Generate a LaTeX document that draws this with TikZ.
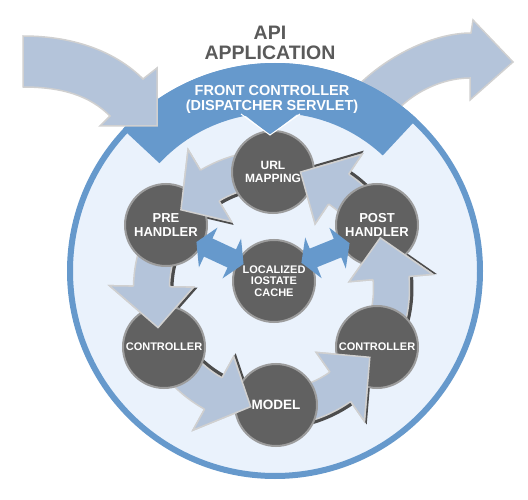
\documentclass[tikz,border=0pt]{standalone}
\usepackage{fontspec}
\setmainfont{Liberation Sans}
\usetikzlibrary{calc}

\definecolor{bandblue}{HTML}{6699CC}
\definecolor{paleblue}{HTML}{EAF2FC}
\definecolor{flowblue}{HTML}{B4C4DA}
\definecolor{flowedge}{HTML}{D0D0D0}
\definecolor{nodegray}{HTML}{616161}
\definecolor{nodeedge}{HTML}{9C9C9C}
\definecolor{titlegray}{HTML}{5A5A5A}
\definecolor{shadowgray}{HTML}{4C4C4C}

\begin{document}
\begin{tikzpicture}[x=1pt,y=-1pt,
    io/.style={circle, fill=nodegray, draw=nodeedge, line width=2pt, minimum size=82pt,
      inner sep=0pt, text=white, align=center, font=\bfseries\fontsize{11}{11.5}\selectfont},
    flow/.style={fill=flowblue, draw=flowedge, line width=1.5pt},
    bigflow/.style={fill=flowblue, draw=flowedge, line width=1.5pt},
    dbl/.style={fill=bandblue}]
    \useasboundingbox[fill=white] (0,0) rectangle (528,500);

    \coordinate (appc) at (275,271);
    \coordinate (ring) at (271.5,288.5);

    % outgoing arrow, behind the application
    \filldraw[bigflow] (352,92) .. controls (380,60) and (430,33) .. (471,33) -- (473,20) -- (513,62)
        -- (470,100) -- (470,78) .. controls (440,78) and (405,95) .. (386,124) -- cycle;

    % application
    \draw[bandblue, line width=6pt, fill=paleblue] (appc) circle[radius=205];
    \begin{scope}[shift={(appc)}]
        \fill[bandblue] (-137:208) arc[start angle=-137, end angle=-47, radius=208]
            -- (-47:158) arc[start angle=-47, end angle=-137, radius=158] -- cycle;
    \end{scope}

    % incoming arrow
    \filldraw[bigflow] (23,36) .. controls (78,36) and (118,54) .. (143,79) -- (157,68) -- (157,126)
        -- (100,126) -- (110,116) .. controls (90,96) and (63,87) .. (23,87) -- cycle;

    \node[text=titlegray, align=center, font=\bfseries\fontsize{19.5}{20.5}\selectfont] (title) at (270,43) {API\\APPLICATION};
    \node[text=white, align=center, font=\bfseries\fontsize{14.5}{15}\selectfont] (front) at (272,99.5) {FRONT CONTROLLER\\(DISPATCHER SERVLET)};

    % request flow round the ring
    \begin{scope}[shift={(ring)}]
        \foreach \s/\b/\t/\dx/\dy in {260/239/221/2.3/3.3, 200/181/161/4/0.5, 140/119/100/2/-3.5,
                                       80/55/35/2.3/3.3, 20/-5/-25/4/-0.3, -40/-56/-76/1.7/-3.6}{
            \fill[shadowgray, shift={(\dx,\dy)}] (\s:138) arc[start angle=\s, end angle=\b, radius=138]
                -- (\b:162) -- (\t:120) -- (\b:78) -- (\b:102) arc[start angle=\b, end angle=\s, radius=102] -- cycle;
            \filldraw[flow] (\s:138) arc[start angle=\s, end angle=\b, radius=138]
                -- (\b:162) -- (\t:120) -- (\b:78) -- (\b:102) arc[start angle=\b, end angle=\s, radius=102] -- cycle;
        }
    \end{scope}

    \node[io, font=\bfseries\fontsize{12}{12.5}\selectfont] (url) at (273,172) {URL\\MAPPING};
    \node[io, font=\bfseries\fontsize{13}{14}\selectfont] (pre) at (166,225) {PRE\\HANDLER};
    \node[io] (ctrlleft) at (164,347) {CONTROLLER};
    \node[io, font=\bfseries\fontsize{13.5}{14}\selectfont] (model) at (276,405) {MODEL};
    \node[io] (ctrlright) at (377,347) {CONTROLLER};
    \node[io, font=\bfseries\fontsize{13}{14}\selectfont] (post) at (377,225) {POST\\HANDLER};
    \node[io] (cache) at (274,281) {LOCALIZED\\IOSTATE\\CACHE};

    % dispatch into the url mapping
    \fill[bandblue] ($(url.north)+(-32,-18)$) -- ($(url.north)+(-3,5)$) -- ($(url.north)+(27,-18)$) -- cycle;
    \draw[white, line width=1pt] ($(url.north)+(-32,-16)$) -- ($(url.north)+(-3,5)$) -- ($(url.north)+(27,-16)$);

    % heads lie over the next handler
    \begin{scope}[shift={(ring)}]
        \foreach \b/\t in {239/221, 181/161, 119/100, 55/35, -5/-25, -56/-76}
            \filldraw[flow] (\b:102) -- (\b:78) -- (\t:120) -- (\b:162) -- (\b:138);
    \end{scope}

    % cache exchange
    \foreach \a/\b/\r in {pre/cache/-25, cache/post/22}{
        \begin{scope}[shift={($(\a)!0.5!(\b)$)}, rotate=\r]
            \fill[dbl] (-26,0) -- (-13,22) -- (-13,10) -- (13,10) -- (13,22) -- (26,0)
                -- (13,-22) -- (13,-10) -- (-13,-10) -- (-13,-22) -- cycle;
        \end{scope}
    }
\end{tikzpicture}
\end{document}
